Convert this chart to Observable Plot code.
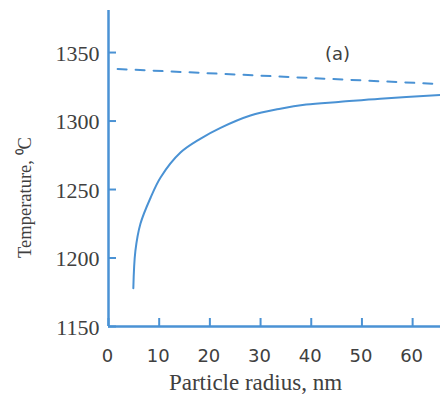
<!DOCTYPE html>
<html>
<head>
<meta charset="utf-8">
<script src="https://cdn.jsdelivr.net/npm/d3@7"></script>
<script src="https://cdn.jsdelivr.net/npm/@observablehq/plot@0.6"></script>
<style>
  html, body { margin: 0; padding: 0; background: #fff; }
</style>
</head>
<body>
<div id="chart"></div>
<script>
const xTicks = [0, 10, 20, 30, 40, 50, 60];
const yTicks = [1150, 1200, 1250, 1300, 1350];
const radius = [4.9, 5.3, 6.3, 8.3, 10.3, 14.2, 18.1, 22.1, 28.0, 33.9, 39.0, 45.8, 53.6, 65.5];
const temperature = [1178, 1205, 1225, 1244, 1259, 1277, 1287, 1295, 1304, 1309, 1312, 1314, 1316.3, 1319];
const limitRadius = [1.8, 65.5];
const limitTemp = [1338, 1327];
const panelLabel = "(a)";
const xTitle = "Particle radius, nm";
const yTitle = "Temperature, \u2070C";

const blue = "#4a92d4";
const ink = "#404040";

const curve = radius.map((r, i) => ({r, t: temperature[i]}));
const limit = limitRadius.map((r, i) => ({r, t: limitTemp[i]}));

const chart = Plot.plot({
  width: 440,
  height: 398,
  marginLeft: 108,
  marginRight: 0,
  marginTop: 10,
  marginBottom: 72,
  x: {domain: [0, 65.5]},
  y: {domain: [1150, 1380.7]},
  style: {background: "#fff"},
  marks: [
    Plot.axisY({ticks: yTicks, tickSize: -8, stroke: blue, strokeWidth: 2, tickFormat: () => "", label: null}),
    Plot.axisX({ticks: xTicks, tickSize: -8, stroke: blue, strokeWidth: 2, tickFormat: () => "", label: null}),
    Plot.text(yTicks, {
      x: () => 0, y: d => d, text: d => String(d),
      textAnchor: "end", dx: -9, dy: 1,
      fontSize: 22, fontFamily: "Liberation Serif", fill: ink
    }),
    Plot.text(xTicks, {
      x: d => d, y: () => 1150, text: d => String(d),
      textAnchor: "middle", dy: 30, dx: -1,
      fontSize: 18, fontFamily: "DejaVu Sans", fill: ink
    }),
    Plot.ruleX([0], {stroke: blue, strokeWidth: 2.5}),
    Plot.ruleY([1150], {stroke: blue, strokeWidth: 2.5}),
    Plot.line(limit, {x: "r", y: "t", stroke: blue, strokeWidth: 2, strokeDasharray: "9,9"}),
    Plot.line(curve, {x: "r", y: "t", stroke: blue, strokeWidth: 2, curve: "catmull-rom"}),
    Plot.text([panelLabel], {
      frameAnchor: "top-left", textAnchor: "middle",
      dx: 229, dy: 37, text: d => d,
      fontSize: 18, fontFamily: "DejaVu Sans", fill: ink
    }),
    Plot.text([xTitle], {
      frameAnchor: "bottom", textAnchor: "middle",
      dx: -19, dy: 63, text: d => d,
      fontSize: 23, fontFamily: "Liberation Serif", fill: ink
    }),
    Plot.text([yTitle], {
      frameAnchor: "left", textAnchor: "middle", rotate: -90,
      dx: -83, dy: 29, text: d => d,
      fontSize: 18.5, fontFamily: "Liberation Serif", fill: ink
    })
  ]
});
document.getElementById("chart").appendChild(chart);
</script>
</body>
</html>
